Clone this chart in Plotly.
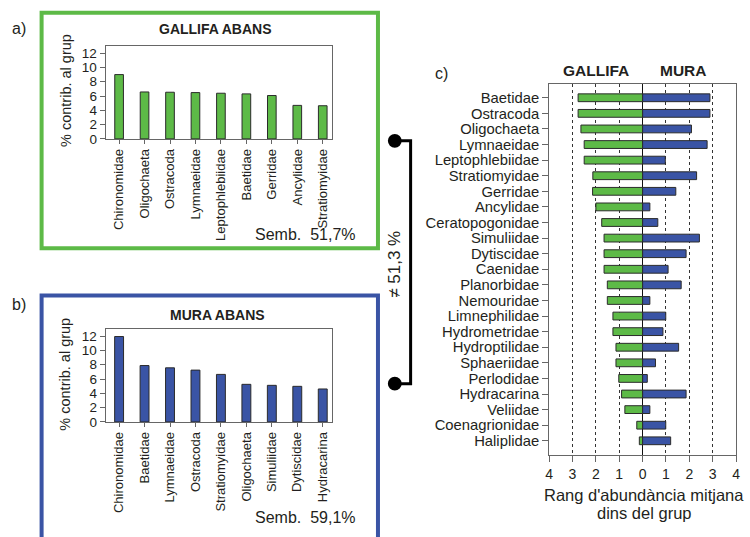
import plotly.graph_objects as go

W, H = 750, 537

# --- panel a: Gallifa before (% contribution to group similarity)
gallifa_taxa = ["Chironomidae", "Oligochaeta", "Ostracoda", "Lymnaeidae", "Leptophlebiidae",
                "Baetidae", "Gerridae", "Ancylidae", "Stratiomyidae"]
gallifa_contrib = [9.0, 6.57, 6.53, 6.48, 6.39, 6.3, 6.07, 4.69, 4.64]

# --- panel b: Mura before
mura_taxa = ["Chironomidae", "Baetidae", "Lymnaeidae", "Ostracoda", "Stratiomyidae",
             "Oligochaeta", "Simuliidae", "Dytiscidae", "Hydracarina"]
mura_contrib = [11.95, 7.89, 7.57, 7.25, 6.65, 5.26, 5.12, 4.98, 4.61]

# --- panel c: mean abundance rank within group
rank_taxa = ["Baetidae", "Ostracoda", "Oligochaeta", "Lymnaeidae", "Leptophlebiidae",
             "Stratiomyidae", "Gerridae", "Ancylidae", "Ceratopogonidae", "Simuliidae",
             "Dytiscidae", "Caenidae", "Planorbidae", "Nemouridae", "Limnephilidae",
             "Hydrometridae", "Hydroptilidae", "Sphaeriidae", "Perlodidae", "Hydracarina",
             "Veliidae", "Coenagrionidae", "Haliplidae"]
rank_gallifa = [2.76, 2.76, 2.64, 2.5, 2.5, 2.13, 2.14, 2.0, 1.75, 1.65, 1.65, 1.65,
                1.51, 1.51, 1.27, 1.27, 1.14, 1.14, 1.02, 0.9, 0.76, 0.25, 0.14]
rank_mura = [2.88, 2.88, 2.09, 2.76, 0.97, 2.31, 1.42, 0.31, 0.65, 2.43, 1.86, 1.09,
             1.65, 0.31, 0.99, 0.87, 1.54, 0.55, 0.2, 1.86, 0.31, 0.99, 1.2]
rank_ticks = [-4, -3, -2, -1, 0, 1, 2, 3, 4]
rank_ticktext = [str(abs(v)) for v in rank_ticks]

GREEN = "#5DBA47"
BLUE = "#3A54A5"
EDGE = "#2b2b2b"
FRAME = "#666666"
TXT = "#231F20"
FONT = "Liberation Sans, Arial, sans-serif"


def px_x(x):
    return x / W


def px_y(y):
    return 1 - y / H


fig = go.Figure()

fig.add_trace(go.Bar(x=gallifa_taxa, y=gallifa_contrib, width=0.34,
                     marker=dict(color=GREEN, line=dict(color=EDGE, width=1)),
                     xaxis="x", yaxis="y", showlegend=False))
fig.add_trace(go.Bar(x=mura_taxa, y=mura_contrib, width=0.35,
                     marker=dict(color=BLUE, line=dict(color=EDGE, width=1)),
                     xaxis="x2", yaxis="y2", showlegend=False))
fig.add_trace(go.Bar(y=rank_taxa, x=[-v for v in rank_gallifa], orientation="h", width=0.5,
                     marker=dict(color=GREEN, line=dict(color=EDGE, width=1)),
                     xaxis="x3", yaxis="y3", showlegend=False))
fig.add_trace(go.Bar(y=rank_taxa, x=rank_mura, orientation="h", width=0.5,
                     marker=dict(color=BLUE, line=dict(color=EDGE, width=1)),
                     xaxis="x3", yaxis="y3", showlegend=False))

small_cat = dict(type="category", range=[-0.53, 8.37], showline=True, mirror=True,
                 linecolor=FRAME, linewidth=1, ticks="outside", ticklen=4,
                 tickcolor=FRAME, tickangle=-90, tickfont=dict(size=13, color=TXT),
                 showgrid=False)
small_val = dict(range=[0, 13], tickvals=[0, 2, 4, 6, 8, 10, 12], showline=True,
                 mirror=True, linecolor=FRAME, linewidth=1, ticks="outside", ticklen=5,
                 tickcolor=FRAME, tickfont=dict(size=13.5, color=TXT), showgrid=False,
                 zeroline=False)

fig.update_layout(
    width=W, height=H, margin=dict(l=0, r=0, t=0, b=0),
    paper_bgcolor="white", plot_bgcolor="white",
    font=dict(family=FONT, color=TXT),
    barmode="overlay",
    xaxis=dict(domain=[px_x(102.7), px_x(331.7)], anchor="y", **small_cat),
    yaxis=dict(domain=[px_y(141), px_y(46.7)], anchor="x", **small_val),
    xaxis2=dict(domain=[px_x(102.7), px_x(331.7)], anchor="y2", **small_cat),
    yaxis2=dict(domain=[px_y(428.3), px_y(334)], anchor="x2", **small_val),
    xaxis3=dict(domain=[px_x(551), px_x(740)], anchor="y3", range=[-4, 4],
                tickvals=rank_ticks, ticktext=rank_ticktext, showline=True, mirror=True,
                linecolor=FRAME, linewidth=1, ticks="outside", ticklen=6, tickcolor=FRAME,
                tickfont=dict(size=14, color=TXT), showgrid=True, griddash="dot",
                gridcolor="#333333", gridwidth=1, zeroline=True, zerolinecolor="#111111",
                zerolinewidth=1),
    yaxis3=dict(domain=[px_y(461.7), px_y(85)], anchor="x3", type="category",
                range=[22.9, -0.9], tickmode="array", tickvals=rank_taxa,
                showline=True, mirror=True, linecolor=FRAME,
                linewidth=1, ticks="outside", ticklen=6, tickcolor=FRAME,
                tickfont=dict(size=14.8, color=TXT), showgrid=False),
)

ann = []


def text(x, y, s, size, bold=False, angle=0, xanchor="center"):
    ann.append(dict(x=px_x(x), y=px_y(y), xref="paper", yref="paper", text=s,
                    showarrow=False, textangle=angle, xanchor=xanchor, yanchor="middle",
                    font=dict(size=size, color=TXT, family=FONT,
                              weight="bold" if bold else "normal")))


text(15, 29, "a)", 16)
text(15, 309, "b)", 16)
text(442, 75, "c)", 16)
text(214, 29, "GALLIFA ABANS", 14, bold=True)
text(216, 320, "MURA ABANS", 14, bold=True)
text(62, 92, "% contrib. al grup", 14.5, angle=-90)
text(62, 380, "% contrib. al grup", 14.5, angle=-90)
text(358, 238, "Semb.  51,7%", 16, xanchor="right")
text(358, 525, "Semb.  59,1%", 16, xanchor="right")
text(598, 72, "GALLIFA", 15.5, bold=True)
text(687, 72, "MURA", 15.5, bold=True)
text(646.5, 502, "Rang d'abundància mitjana", 16.5)
text(646.5, 521, "dins del grup", 16.5)
text(394, 268, "≠ 51,3 %", 17, angle=-90)

fig.update_layout(annotations=ann)

shapes = [
    dict(type="rect", xref="paper", yref="paper", x0=px_x(38), x1=px_x(378),
         y0=px_y(13), y1=px_y(252), line=dict(color=GREEN, width=4)),
    dict(type="rect", xref="paper", yref="paper", x0=px_x(38), x1=px_x(378),
         y0=px_y(300), y1=px_y(560), line=dict(color=BLUE, width=4)),
    dict(type="path", xref="paper", yref="paper",
         path=f"M {px_x(395)} {px_y(143)} L {px_x(411)} {px_y(143)} L {px_x(411)} {px_y(389.5)} L {px_x(395)} {px_y(389.5)}",
         line=dict(color="black", width=3)),
]
for cy in (143, 389.5):
    shapes.append(dict(type="circle", xref="paper", yref="paper",
                       x0=px_x(395 - 7), x1=px_x(395 + 7), y0=px_y(cy + 7), y1=px_y(cy - 7),
                       fillcolor="black", line=dict(color="black", width=0)))
fig.update_layout(shapes=shapes)

fig.write_html("out.html")
